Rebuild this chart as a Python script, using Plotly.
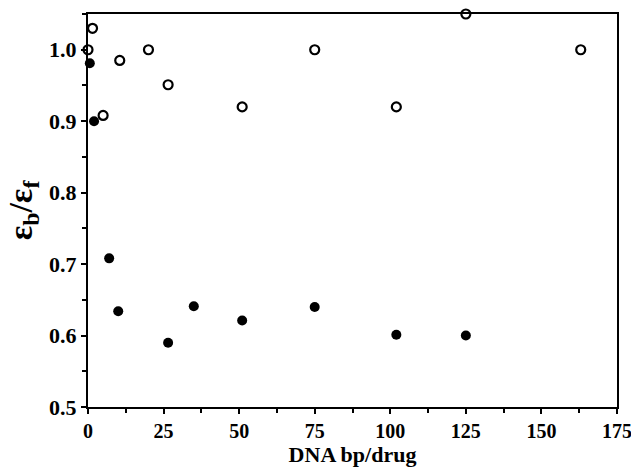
import plotly.graph_objects as go

# Open circles
open_x = [0, 1.5, 5, 10.5, 20, 26.5, 51, 75, 102, 125, 163]
open_y = [1.0, 1.03, 0.908, 0.985, 1.0, 0.951, 0.92, 1.0, 0.92, 1.05, 1.0]

# Filled circles
filled_x = [0.6, 2, 7, 10, 26.5, 35, 51, 75, 102, 125]
filled_y = [0.981, 0.90, 0.708, 0.634, 0.59, 0.641, 0.621, 0.64, 0.601, 0.60]

x_ticks = [0, 25, 50, 75, 100, 125, 150, 175]
y_ticks = [0.5, 0.6, 0.7, 0.8, 0.9, 1.0]
y_tick_labels = ["0.5", "0.6", "0.7", "0.8", "0.9", "1.0"]

fig = go.Figure()
fig.add_trace(go.Scatter(
    x=open_x, y=open_y, mode="markers", cliponaxis=False,
    marker=dict(symbol="circle-open", size=9, color="black", line=dict(width=2.2, color="black")),
    showlegend=False))
fig.add_trace(go.Scatter(
    x=filled_x, y=filled_y, mode="markers", cliponaxis=False,
    marker=dict(symbol="circle", size=10, color="black"),
    showlegend=False))

font_family = "Liberation Serif"

fig.update_layout(
    width=631, height=467,
    margin=dict(l=88, r=14, t=14, b=60),
    paper_bgcolor="white", plot_bgcolor="white",
    font=dict(family=font_family, color="black"),
    xaxis=dict(
        range=[0, 175], tickvals=x_ticks, ticktext=[str(v) for v in x_ticks],
        automargin=False, ticklabeloverflow="allow",
        showgrid=False, zeroline=False,
        showline=True, linecolor="black", linewidth=2, mirror=True,
        ticks="outside", ticklen=5, tickwidth=2, tickcolor="black",
        minor=dict(dtick=12.5, tick0=0, ticks="outside", ticklen=4, tickwidth=1.5, tickcolor="black"),
        tickfont=dict(family=font_family, size=20, weight="bold"),
        title=dict(text="DNA bp/drug", font=dict(family=font_family, size=22, weight="bold"), standoff=10),
    ),
    yaxis=dict(
        range=[0.5, 1.05], tickvals=y_ticks, ticktext=y_tick_labels,
        automargin=False,
        showgrid=False, zeroline=False,
        showline=True, linecolor="black", linewidth=2, mirror=True,
        ticks="outside", ticklen=5, tickwidth=2, tickcolor="black",
        minor=dict(dtick=0.05, tick0=0.5, ticks="outside", ticklen=4, tickwidth=1.5, tickcolor="black"),
        tickfont=dict(family=font_family, size=22, weight="bold"),
        title=dict(text="ε<sub>b</sub>/ε<sub>f</sub>", font=dict(family=font_family, size=34, weight="bold"), standoff=6),
    ),
)

fig.write_html("out.html")
